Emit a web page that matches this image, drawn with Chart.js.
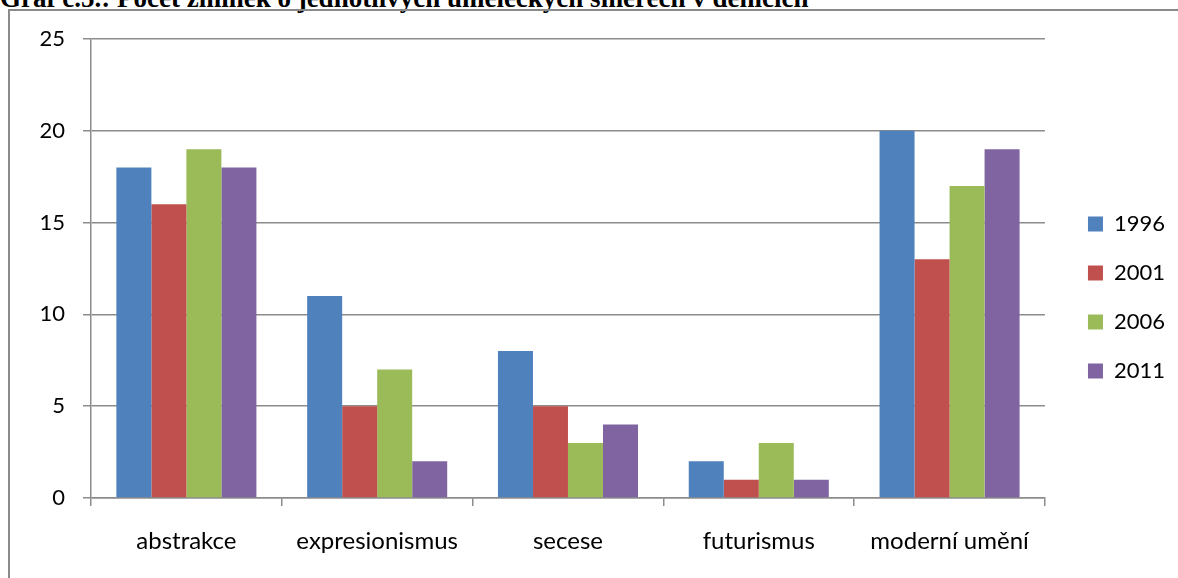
<!DOCTYPE html>
<html>
<head>
<meta charset="utf-8">
<script src="https://cdn.jsdelivr.net/npm/chart.js@4.4.1/dist/chart.umd.min.js"></script>
<style>
  html, body { margin: 0; padding: 0; background: #fff; }
  body { width: 1178px; height: 578px; position: relative; overflow: hidden; }
  #caption {
    position: absolute; left: 0; top: -17px;
    font: bold 27px "Liberation Serif", "Times New Roman", serif;
    color: #000; white-space: nowrap;
  }
  #frame {
    position: absolute; left: 8px; top: 9px; right: -4px; bottom: -4px;
    border-left: 2px solid #8a8a8a; border-top: 2px solid #8a8a8a;
  }
  #wrap { position: absolute; left: 0; top: 0; width: 1178px; height: 578px; }
</style>
</head>
<body>
<div id="caption">Graf č.5.: Počet zmínek o jednotlivých uměleckých směrech v denících</div>
<div id="frame"></div>
<div id="wrap"><canvas id="c" width="1178" height="578"></canvas></div>
<script>
const categories = ['abstrakce', 'expresionismus', 'secese', 'futurismus', 'moderní umění'];
const years = ['1996', '2001', '2006', '2011'];
const values1996 = [18, 11, 8, 2, 20];
const values2001 = [16, 5, 5, 1, 13];
const values2006 = [19, 7, 3, 3, 17];
const values2011 = [18, 2, 4, 1, 19];
const yTicks = [0, 5, 10, 15, 20, 25];

const seriesColors = ['#4F81BD', '#C0504D', '#9BBB59', '#8064A2'];
const seriesValues = [values1996, values2001, values2006, values2011];

const fontFamily = 'Lato, "Open Sans", sans-serif';
const numberFont = { family: fontFamily, size: 22 };
const categoryFont = { family: fontFamily, size: 24 };
const lineGray = '#8c8c8c';

new Chart(document.getElementById('c'), {
  type: 'bar',
  data: {
    labels: categories,
    datasets: years.map((y, i) => ({
      label: y,
      data: seriesValues[i],
      backgroundColor: seriesColors[i],
      borderWidth: 0,
      categoryPercentage: 0.734,
      barPercentage: 1.0
    }))
  },
  options: {
    responsive: false,
    animation: false,
    devicePixelRatio: 1,
    layout: { padding: { top: 39, bottom: 22, left: 0, right: 3 } },
    plugins: {
      tooltip: { enabled: false },
      legend: {
        position: 'right',
        align: 'center',
        labels: {
          boxWidth: 15, boxHeight: 15, padding: 27,
          color: '#000', font: numberFont
        }
      }
    },
    scales: {
      x: {
        grid: {
          offset: true, drawOnChartArea: false, drawTicks: true,
          tickLength: 8, color: lineGray, lineWidth: 1.5
        },
        border: { display: true, color: lineGray, width: 1.5 },
        ticks: { color: '#000', font: categoryFont, padding: 21, maxRotation: 0, autoSkip: false },
        afterFit(scale) { scale.height = 58; }
      },
      y: {
        min: 0, max: 25,
        afterBuildTicks(scale) { scale.ticks = yTicks.map(v => ({ value: v })); },
        grid: { color: lineGray, lineWidth: 1.5, tickLength: 8 },
        border: { display: true, color: lineGray, width: 1.5 },
        ticks: { color: '#000', font: numberFont, padding: 18 },
        afterFit(scale) { scale.width = 91; }
      },
      // empty spacer between the plot and the legend
      gap: {
        type: 'linear', axis: 'y', position: 'right', display: true,
        grid: { display: false }, border: { display: false },
        ticks: { display: false },
        afterFit(scale) { scale.width = 16; }
      }
    }
  }
});
</script>
</body>
</html>
